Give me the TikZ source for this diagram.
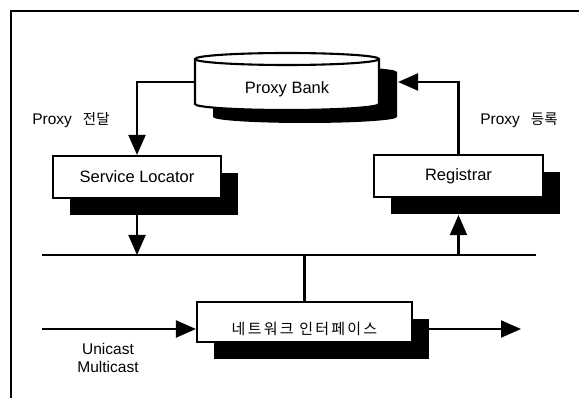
\documentclass[tikz,border=0pt]{standalone}
\usepackage{fontspec}
\setmainfont{Liberation Sans}
\newfontfamily\kr{Noto Sans CJK KR}
\newfontfamily\krsp[LetterSpace=15]{Noto Sans CJK KR}
\usetikzlibrary{arrows.meta,shadows}
\begin{document}
\begin{tikzpicture}[x=1pt,y=-1pt,
  line width=2.1pt,
  box/.style={draw, fill=white, line width=2.1pt, inner sep=0pt,
    font=\fontsize{16.5}{18}\selectfont,
    drop shadow={shadow xshift=17pt, shadow yshift=-17pt, fill=black, opacity=1}},
  tip/.style={-{Triangle[length=20pt,width=17pt]}},
  lbl/.style={font=\fontsize{15.5}{18}\selectfont, inner sep=0pt},
]
\useasboundingbox (0,0) rectangle (579,398);
% outer frame (partially visible)
\draw (11,398) -- (11,11) -- (579,11);

% Proxy Bank cylinder (drawn directly)
\begin{scope}[shift={(18,13)}]
  \fill[black] (195,59) -- (195,104) arc[start angle=180,end angle=0,x radius=92,y radius=6]
    -- (379,59) arc[start angle=0,end angle=-180,x radius=92,y radius=6] -- cycle;
\end{scope}
\draw[fill=white] (195,59) -- (195,104) arc[start angle=180,end angle=0,x radius=92,y radius=6]
    -- (379,59) arc[start angle=0,end angle=-180,x radius=92,y radius=6] -- cycle;
\draw (195,59) arc[start angle=180,end angle=0,x radius=92,y radius=6];
\node[inner sep=0pt, minimum width=184pt, minimum height=45pt, text height=24pt, text depth=0.4pt,
  font=\fontsize{16.5}{18}\selectfont] (pb) at (287,82) {Proxy Bank};

% boxes
\node[box, minimum width=168pt, minimum height=42pt] (sl) at (137,177) {Service Locator};
\node[box, minimum width=169pt, minimum height=42pt] (reg) at (458.5,176) {Registrar};
\node[box, minimum width=215pt, minimum height=40pt, text height=26pt, text depth=1pt,
  font=\krsp\fontsize{15}{18}\selectfont] (ni) at (304.5,322) {네트워크 인터페이스};

% connectors
\draw[tip] (pb.west) -| (sl.north);
\draw[tip] (reg.north) |- ([xshift=18pt]pb.east);

\coordinate (busL) at (42,255);
\coordinate (busR) at (536,255);
\draw (busL) -- (busR);
\draw[tip] (sl.south) -- (sl.south |- busL);
\draw[tip] (reg.south |- busL) -- ([yshift=-17pt]reg.south);
\draw (ni.north |- busL) -- (ni.north);

\coordinate (inL) at (42,329);
\coordinate (outR) at (521,329);
\draw[tip] (inL) -- (inL -| ni.west);
\draw[tip] (inL -| ni.east) -- (outR);

% labels
\node[lbl] (l1) at (71,120) {Proxy\hspace{11pt}{\kr\fontsize{14.5}{18}\selectfont 전달}};
\node[lbl] (l2) at (519,120) {Proxy\hspace{11pt}{\kr\fontsize{14.5}{18}\selectfont 등록}};
\node[lbl, align=center] (l3) at (108,358) {Unicast\\Multicast};
\end{tikzpicture}
\end{document}
